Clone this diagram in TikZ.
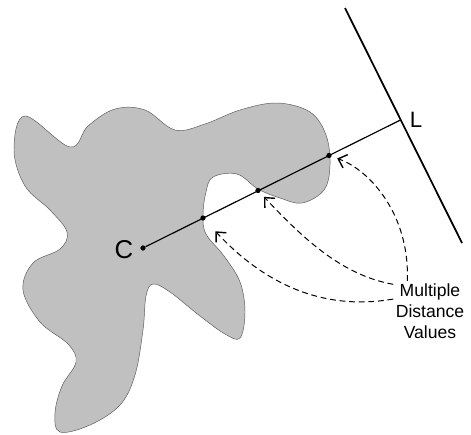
\documentclass[tikz,border=0pt]{standalone}
\definecolor{blobgray}{RGB}{192, 192, 192}
\definecolor{edgegray}{RGB}{90, 90, 90}
\usepackage{fontspec}
\setmainfont{Liberation Sans}
\usepackage{tikz}
\usetikzlibrary{shapes, arrows.meta, positioning, calc}

\begin{document}
\begin{tikzpicture}[x=0.03cm, y=-0.03cm,
  hitdot/.style={circle, fill=black, inner sep=0pt, minimum size=4.5pt},
  distarrow/.style={dash pattern=on 5pt off 3.2pt, line width=0.85pt, -{Straight Barb[length=6.5pt, width=12pt, line width=1.2pt]}, shorten >=5pt}]
  \useasboundingbox (0,0) rectangle (471,434);
  % object silhouette
  \filldraw[fill=blobgray, draw=edgegray, line width=0.4pt] plot[smooth cycle, tension=0.6] coordinates {
    (25,116) (70,147) (88,126) (115,109) (145,110) (175,130) (205,124) (240,110) (277,103)
    (310,112) (326,135) (330,165) (324,190) (302,203) (280,198) (258,189) (237,174)
    (213,177) (206,192) (203,215) (206,234) (224,256) (240,282) (245,312) (240,338)
    (225,334) (200,316) (170,292) (153,284) (146,296) (143,330) (135,375) (120,405)
    (90,425) (60,432) (55,413) (62,386) (76,362) (68,344) (40,322) (23,290) (33,263)
    (60,249) (67,232) (50,210) (25,186) (14,150)};
  % source line and centre ray
  \draw[line width=1.5pt] (345,8) coordinate (ltop) -- (462,243) coordinate (lbot);
  \node[hitdot] (c) at (143,248) {};
  \coordinate (l) at (400.5,120);
  \draw[line width=1pt] (c) -- (l);
  \node[hitdot] (p1) at (329,155.5) {};
  \node[hitdot] (p2) at (258,190.5) {};
  \node[hitdot] (p3) at (203,218) {};
  \node[font=\fontsize{22}{24}\selectfont] at (124,250) {C};
  \node[font=\fontsize{19}{21}\selectfont] at (416,120) {L};
  \node[font=\fontsize{15}{18}\selectfont, align=center, inner sep=2pt] (dist) at (430,311) {Multiple\\Distance\\Values};
  \draw[distarrow] (dist.127) .. controls (410,215) and (370,170) .. (p1);
  \draw[distarrow] (dist.144) .. controls (340,275) and (300,235) .. (p2);
  \draw[distarrow, shorten >=13pt] (dist.162) .. controls (330,310) and (270,290) .. (p3);
\end{tikzpicture}
\end{document}
